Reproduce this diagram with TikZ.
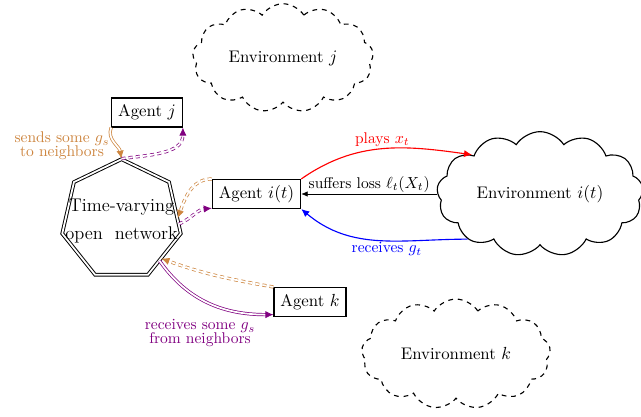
\documentclass[tikz,border=0pt]{standalone}
\usetikzlibrary{shapes.geometric,shapes.symbols,arrows.meta}
\definecolor{og}{RGB}{205,133,63}
\definecolor{pu}{RGB}{128,0,128}
\begin{document}
\begin{tikzpicture}[x=0.625pt,y=-0.625pt,
  font=\fontsize{10.5pt}{12.5pt}\selectfont,
  box/.style={draw,line width=0.8pt,minimum height=18pt,inner xsep=4pt},
  env/.style={cloud,draw,line width=0.7pt,cloud puffs=13,cloud puff arc=115,aspect=1.9,align=center},
  dashenv/.style={env,dash pattern=on 3pt off 3pt},
  dbl/.style={double,line width=0.45pt,double distance=1.1pt},
  dd/.style={dbl,dash pattern=on 2.5pt off 2pt},
  tip/.style={-{Latex[length=5pt,width=4.5pt]}},
  lab/.style={font=\fontsize{9.7pt}{10.5pt}\selectfont,align=center,inner sep=1pt}]
\useasboundingbox (0,0) rectangle (641,417);

% nodes
\node[box] (aj) at (147,112.5) {Agent $j$};
\node[box] (ai) at (256.5,194) {Agent $i(t)$};
\node[box] (ak) at (310,302) {Agent $k$};
\node[regular polygon,regular polygon sides=7,minimum size=76pt,inner sep=0pt,
      draw,dbl,line width=0.6pt] (net) at (121.5,220) {};
\node[align=center,font=\fontsize{11.5pt}{14pt}\selectfont] (nt) at (121.5,221)
  {Time-varying\\[3pt]open\ \ network};

\node[env,minimum width=129pt,minimum height=66pt] (ei) at (540,194) {Environment $i(t)$};
\node[dashenv,minimum width=113pt,minimum height=57pt] (ej) at (283,58) {Environment $j$};
\node[dashenv,minimum width=118pt,minimum height=61pt] (ek) at (456,354) {Environment $k$};

% environment i(t) interactions
\draw[red,line width=0.7pt,tip] (ai.north east) to[out=35,in=172]
  node[lab,above,pos=0.5] {plays $x_t$} (ei.150);
\draw[black,line width=0.5pt,-{Latex[length=4pt,width=3.5pt]}] (ei.west |- ai.east) -- (ai.east)
  node[lab,above,midway] {suffers loss $\ell_t(X_t)$};
\draw[blue,line width=0.7pt,tip] (ei.212) to[out=180,in=-40]
  node[lab,below,pos=0.45] {receives $g_t$} (ai.south east);

% agent i(t) <-> network
\draw[og,dd,tip] (ai.north west) to[out=180,in=70] (net.2);
\draw[pu,dd,tip] (net.-4) to[out=25,in=185] ([yshift=0.5pt]ai.south west);

% agent j <-> network
\draw[og,dbl,tip] (aj.south west) to[out=-110,in=100] (net.north);
\draw[pu,dd,tip] (net.north) to[out=8,in=-90] (aj.south east);
\node[lab,text=og] (ls) at (62,146) {sends some $g_s$\\[-2pt]to neighbors};

% agent k <-> network
\draw[og,dd,tip] (ak.north west) to[out=170,in=-20] (net.-44);
\draw[pu,dbl,tip] (net.-47) to[out=-55,in=180] ([yshift=1.5pt]ak.south west);
\node[lab,text=pu] (lr) at (200,333) {receives some $g_s$\\[-2pt]from neighbors};
\end{tikzpicture}
\end{document}
